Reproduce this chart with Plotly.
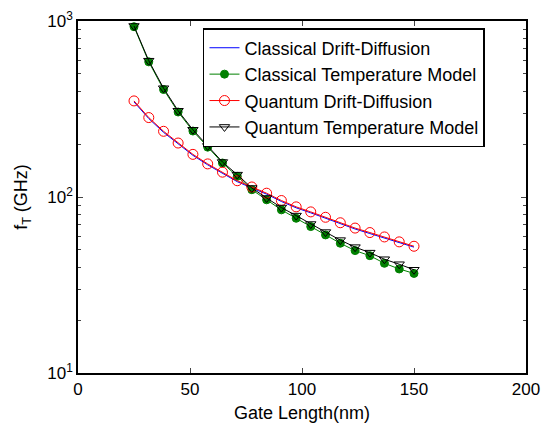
import plotly.graph_objects as go

gate_length = [25, 31.6, 38.2, 44.7, 51.3, 57.9, 64.5, 71.1, 77.6, 84.2,
               90.8, 97.4, 103.9, 110.5, 117.1, 123.7, 130.3, 136.8, 143.4, 150]

classical_dd = [347, 279, 233, 200, 172.5, 152.3, 136.7, 122.2, 112.6, 103.8,
                94.3, 86.8, 81.3, 75.8, 70.5, 65.8, 62.0, 58.6, 54.9, 51.9]
classical_temp = [928, 586, 408, 304, 237, 192, 156, 131, 110, 96.4,
                  84.5, 75.7, 67.9, 60.9, 54.6, 49.6, 46.4, 42.0, 39.0, 36.8]
quantum_dd = [351.5, 282.7, 236.2, 202.6, 174.7, 154.2, 138.4, 123.7, 114.0, 105.1,
              95.5, 87.9, 82.3, 76.7, 71.4, 66.6, 62.8, 59.3, 55.6, 52.5]
quantum_temp = [937, 595, 415, 309, 241, 195, 158, 134, 112.5, 98.7,
                87.1, 78.4, 70.2, 63.2, 56.9, 51.9, 48.3, 44.3, 41.5, 38.6]

y_tickvals = [10, 100, 1000]
y_ticktext = ["10<sup>1</sup>", "10<sup>2</sup>", "10<sup>3</sup>"]
x_tickvals = [0, 50, 100, 150, 200]

FONT = "Liberation Sans, Arial, sans-serif"

fig = go.Figure()
fig.add_trace(go.Scatter(x=gate_length, y=classical_dd, mode="lines",
                         name="Classical Drift-Diffusion",
                         line=dict(color="#0000ff", width=1)))
fig.add_trace(go.Scatter(x=gate_length, y=classical_temp, mode="lines+markers",
                         name="Classical Temperature Model",
                         line=dict(color="#008000", width=1),
                         marker=dict(symbol="circle", size=8, color="#008000",
                                     line=dict(color="#008000", width=1))))
fig.add_trace(go.Scatter(x=gate_length, y=quantum_dd, mode="lines+markers",
                         name="Quantum Drift-Diffusion",
                         line=dict(color="#ff0000", width=1),
                         marker=dict(symbol="circle-open", size=10, color="#ff0000",
                                     line=dict(width=1))))
fig.add_trace(go.Scatter(x=gate_length, y=quantum_temp, mode="lines+markers",
                         name="Quantum Temperature Model",
                         line=dict(color="#000000", width=1),
                         marker=dict(symbol="triangle-down-open", size=9, color="#000000",
                                     line=dict(width=1))))

fig.update_layout(
    width=543, height=423,
    margin=dict(l=78, r=17, t=21, b=50),
    paper_bgcolor="white", plot_bgcolor="white",
    font=dict(family=FONT, size=17, color="black"),
    showlegend=True,
    legend=dict(x=0.279, y=0.98, xanchor="left", yanchor="top",
                bgcolor="white", bordercolor="black", borderwidth=1.5,
                font=dict(family=FONT, size=18, color="black"),
                tracegroupgap=0),
    xaxis=dict(range=[0, 200], tickvals=x_tickvals, ticks="inside", ticklen=5,
               showline=True, linecolor="black", linewidth=1.5, mirror="ticks",
               showgrid=False, zeroline=False, automargin=False,
               title=dict(text="Gate Length(nm)",
                          font=dict(family=FONT, size=18))),
    yaxis=dict(type="log", range=[1, 3], tickvals=y_tickvals, ticktext=y_ticktext,
               ticks="inside", ticklen=5, automargin=False,
               showline=True, linecolor="black", linewidth=1.5, mirror="ticks",
               showgrid=False, zeroline=False,
               minor=dict(ticks="inside", ticklen=3, dtick="D1", showgrid=False),
               title=dict(text="f<sub>T</sub> (GHz)",
                          font=dict(family=FONT, size=18))),
)

fig.write_html("out.html",
               config={"displayModeBar": False},
               post_script="document.body.style.margin='0';"
                           "document.body.style.overflow='hidden';")
